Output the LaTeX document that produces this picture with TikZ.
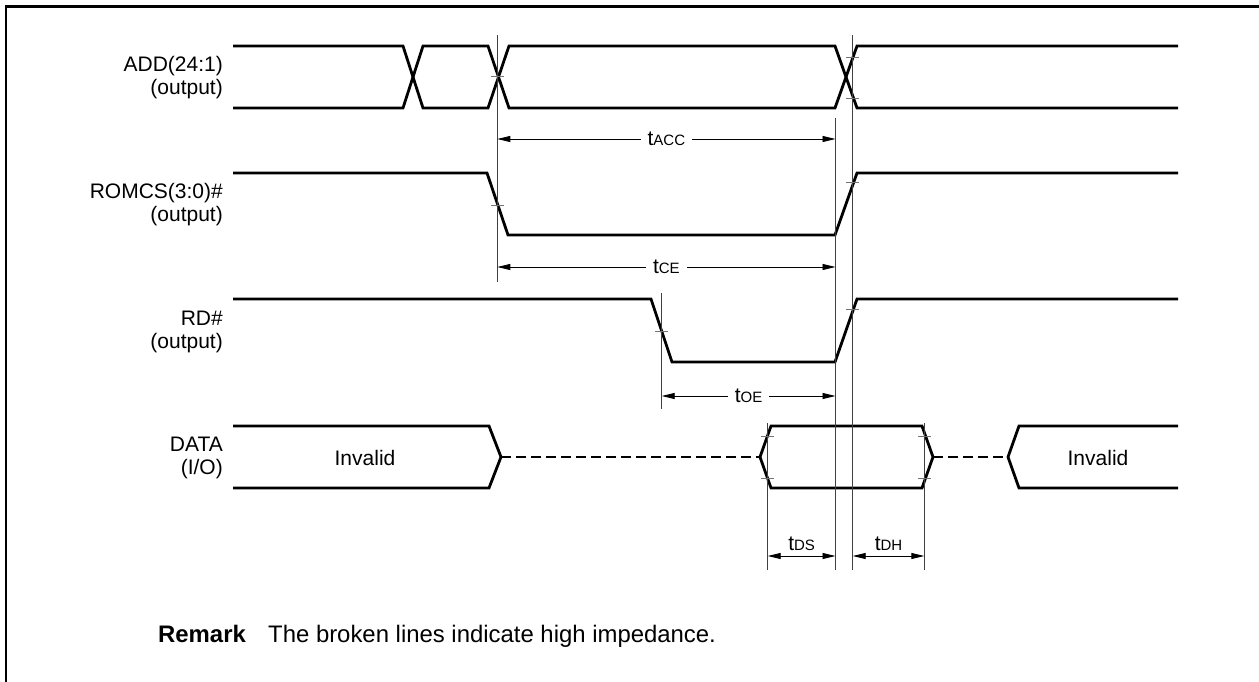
\documentclass[tikz,border=0pt]{standalone}
\usepackage{fontspec}
\setmainfont{Liberation Sans}
\usetikzlibrary{arrows.meta}
\newcommand\tsub[1]{t{\fontsize{15}{15}\selectfont #1}}
\begin{document}
\begin{tikzpicture}[x=1pt,y=-1pt,
  sig/.style={line width=2.8pt, line join=miter, line cap=butt},
  hiz/.style={line width=2.8pt, dash pattern=on 10pt off 5pt},
  refl/.style={line width=1.1pt, black!75},
  tickm/.style={line width=1pt, black!55},
  dimarr/.style={line width=0.9pt, {Triangle[length=13pt,width=6pt]}-{Triangle[length=13pt,width=6pt]}},
  lab/.style={font=\fontsize{21}{23}\selectfont, align=right, anchor=east, inner sep=0pt},
  tlab/.style={font=\fontsize{21}{23}\selectfont, fill=white, inner xsep=7pt, inner ysep=1pt},
  tlabup/.style={font=\fontsize{21}{23}\selectfont, inner sep=0pt, anchor=south},
  txt/.style={font=\fontsize{21}{23}\selectfont, inner sep=0pt},
  rem/.style={font=\fontsize{23.9}{26}\selectfont, inner sep=0pt, anchor=base west}
]
\useasboundingbox (0,0) rectangle (1259,682);
% frame
\draw[line width=2.6pt] (5.8,700) -- (5.8,6.8) -- (1270,6.8);

% signal labels
\node[lab] (ladd) at (223,78) {ADD(24:1)\\(output)};
\node[lab] (lrom) at (223,205) {ROMCS(3:0)\#\\(output)};
\node[lab] (lrd) at (223,332) {RD\#\\(output)};
\node[lab] (ldat) at (223,458) {DATA\\(I/O)};

% ADD bus
\draw[sig] (233,46)--(403,46)--(423,108)--(488,108)--(509,46)--(835,46)--(857,108)--(1178,108);
\draw[sig] (233,108)--(403,108)--(423,46)--(488,46)--(509,108)--(835,108)--(857,46)--(1178,46);
% ROMCS
\draw[sig] (233,173)--(487,173)--(508,235)--(835,235)--(857,173)--(1178,173);
% RD
\draw[sig] (233,299)--(651,299)--(672,362)--(835,362)--(857,299)--(1178,299);
% DATA
\draw[sig] (233,426)--(489,426)--(501,457)--(489,488)--(233,488);
\draw[hiz] (501,457)--(760,457);
\draw[sig] (760,457)--(771,426)--(922,426)--(933,457)--(922,488)--(771,488)--cycle;
\draw[hiz] (933,457)--(1008,457);
\draw[sig] (1178,426)--(1019,426)--(1008,457)--(1019,488)--(1178,488);
\node[txt] (inv1) at (365,458) {Invalid};
\node[txt] (inv2) at (1098,458) {Invalid};

% reference lines
\draw[refl] (497.3,35) -- (497.3,282);
\draw[refl] (835.5,118) -- (835.5,570);
\draw[refl] (852.7,35) -- (852.7,570);
\draw[refl] (661.7,293) -- (661.7,409);
\draw[refl] (767.7,423) -- (767.7,570);
\draw[refl] (924.3,423) -- (924.3,570);

% ticks
\foreach \x/\y in {497.3/77, 852.7/57.3, 852.7/99, 497.3/205, 852.7/183, 661.7/331, 852.7/309,
  767.7/436, 767.7/478, 924.3/436, 924.3/478}
  \draw[tickm] (\x-6.5,\y) -- (\x+6.5,\y);

% dimension arrows
\coordinate (acc1) at (497.3,139); \coordinate (acc2) at (835.5,139);
\coordinate (ce1) at (497.3,267); \coordinate (ce2) at (835.5,267);
\coordinate (oe1) at (661.7,396); \coordinate (oe2) at (835.5,396);
\coordinate (ds1) at (767.7,556); \coordinate (ds2) at (835.5,556);
\coordinate (dh1) at (852.7,556); \coordinate (dh2) at (924.3,556);
\draw[dimarr] (acc1) -- node[tlab] (tacc) {\tsub{ACC}} (acc2);
\draw[dimarr] (ce1) -- node[tlab] (tce) {\tsub{CE}} (ce2);
\draw[dimarr] (oe1) -- node[tlab] (toe) {\tsub{OE}} (oe2);
\draw[dimarr] (ds1) -- node[tlabup, yshift=5pt] (tds) {\tsub{DS}} (ds2);
\draw[dimarr] (dh1) -- node[tlabup, yshift=5pt] (tdh) {\tsub{DH}} (dh2);

% remark
\node[rem, font=\bfseries\fontsize{23.9}{26}\selectfont] (remk) at (158,642) {Remark};
\node[rem] (remt) at (268,642) {The broken lines indicate high impedance.};
\end{tikzpicture}
\end{document}
